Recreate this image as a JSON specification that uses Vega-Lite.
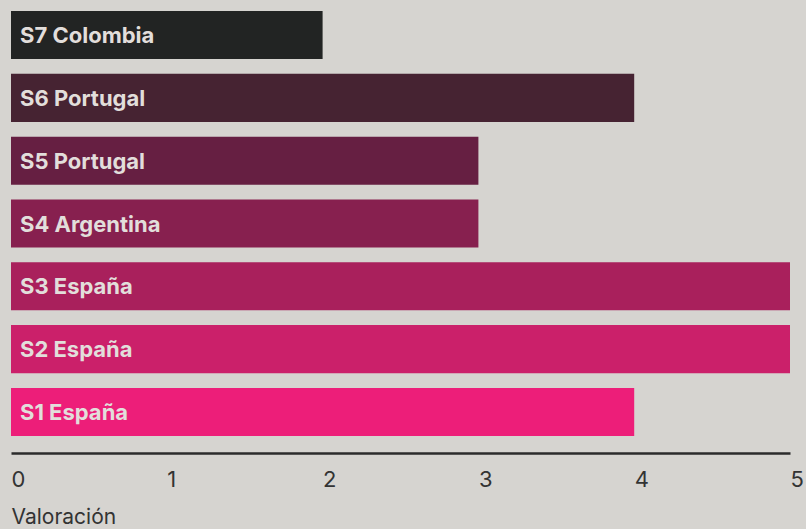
{
  "$schema": "https://vega.github.io/schema/vega-lite/v6.json",
  "width": 779,
  "height": 447,
  "autosize": {"type": "none"},
  "padding": {"left": 11, "top": 0, "right": 16, "bottom": 82},
  "background": "#d6d4d0",
  "config": {"view": {"stroke": null}, "font": "Inter"},
  "data": {
    "values": [
      {"label": "S7 Colombia", "valor": 2, "color": "#222423"},
      {"label": "S6 Portugal", "valor": 4, "color": "#462332"},
      {"label": "S5 Portugal", "valor": 3, "color": "#661f42"},
      {"label": "S4 Argentina", "valor": 3, "color": "#87204f"},
      {"label": "S3 España", "valor": 5, "color": "#a9205c"},
      {"label": "S2 España", "valor": 5, "color": "#cb206a"},
      {"label": "S1 España", "valor": 4, "color": "#ed1e79"}
    ]
  },
  "encoding": {
    "y": {
      "field": "label",
      "type": "nominal",
      "sort": null,
      "axis": null,
      "scale": {"paddingInner": 0.235, "paddingOuter": 0.175}
    }
  },
  "layer": [
    {
      "mark": {"type": "bar"},
      "encoding": {
        "x": {
          "field": "valor",
          "type": "quantitative",
          "scale": {"domain": [0, 5], "nice": false},
          "axis": {
            "title": "Valoración",
            "values": [0, 1, 2, 3, 4, 5],
            "format": "d",
            "grid": false,
            "ticks": false,
            "offset": 6,
            "domainColor": "#2b2b2b",
            "domainWidth": 2.5,
            "labelAlign": "left",
            "labelBaseline": "top",
            "labelPadding": 16,
            "labelFontSize": 22,
            "labelColor": "#333333",
            "labelFont": "Inter",
            "labelFlush": false,
            "labelOverlap": false,
            "labelBound": false,
            "titleAnchor": "start",
            "titleAlign": "left",
            "titleFontSize": 21,
            "titleFontWeight": "normal",
            "titleColor": "#333333",
            "titleFont": "Inter",
            "titlePadding": 16
          }
        },
        "color": {"field": "color", "type": "nominal", "scale": null, "legend": null}
      }
    },
    {
      "mark": {
        "type": "text",
        "align": "left",
        "baseline": "middle",
        "dx": 9,
        "dy": 1,
        "fontWeight": "bold",
        "fontSize": 22,
        "font": "Inter",
        "color": "#e2dedb"
      },
      "encoding": {
        "x": {"datum": 0, "type": "quantitative"},
        "text": {"field": "label"}
      }
    }
  ]
}
